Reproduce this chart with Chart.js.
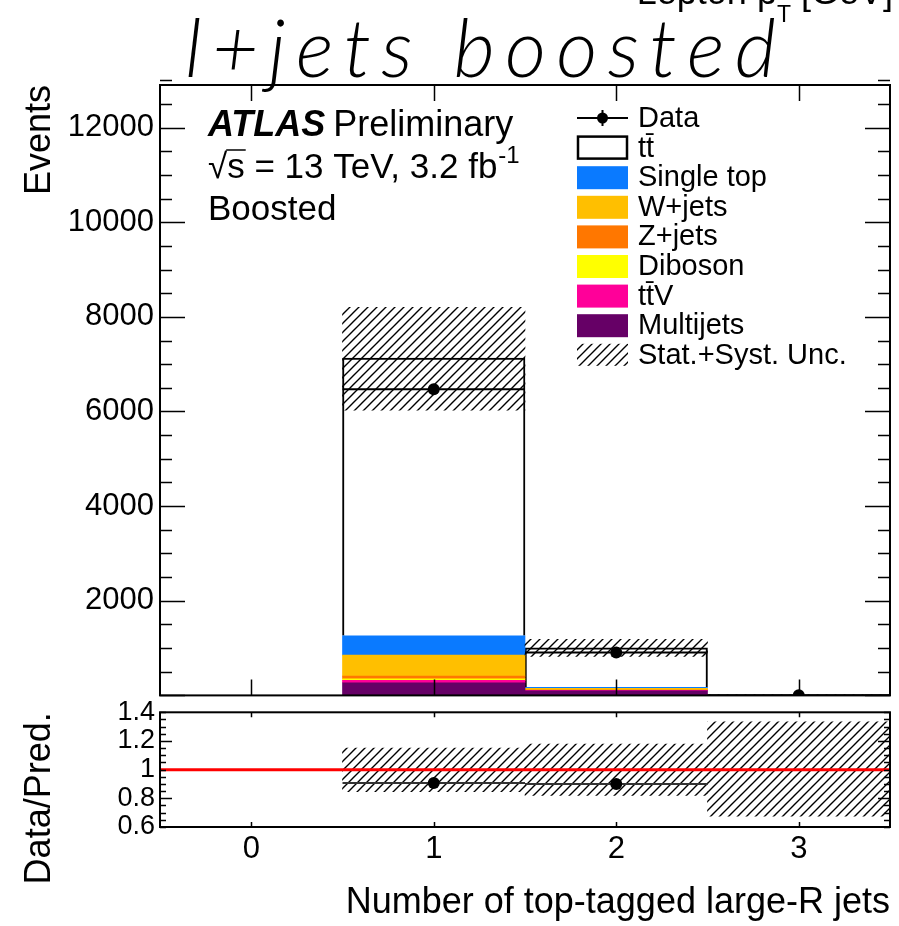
<!DOCTYPE html>
<html>
<head>
<meta charset="utf-8">
<script src="https://cdn.jsdelivr.net/npm/chart.js@4.4.0/dist/chart.umd.min.js"></script>
<style>
  html, body { margin: 0; padding: 0; background: #fff; }
  #wrap { position: relative; width: 899px; height: 926px; overflow: hidden; }
  canvas { position: absolute; left: 0; }
  #mainChart { top: 0; }
  #ratioChart { top: 690px; }
</style>
</head>
<body>
<div id="wrap">
  <canvas id="mainChart" width="899" height="720"></canvas>
  <canvas id="ratioChart" width="899" height="236"></canvas>
</div>
<script>
// bin centres = number of top-tagged large-R jets
const bins = [0, 1, 2, 3];

// stacked predictions (events)
const ttbar     = [0, 5870, 832, 8];
const singleTop = [0, 410, 25, 1];
const wJets     = [0, 444, 25, 1];
const zJets     = [0, 55, 10, 0];
const diboson   = [0, 36, 6, 0];
const ttV       = [0, 48, 12, 0.5];
const multijets = [0, 268, 95, 0];

// data and uncertainty band
const dataCounts = [null, 6470, 905, 4];
const dataErr    = [null, 80, 30, 2];
const uncUp      = [null, 8200, 1185, 14];
const uncDown    = [null, 6030, 825, 7.1];

// tick labels
const yTicksMain  = [2000, 4000, 6000, 8000, 10000, 12000];
const yTicksRatio = [0.6, 0.8, 1, 1.2, 1.4];
const xTicks      = [0, 1, 2, 3];

Chart.defaults.font.family = "'Liberation Sans', Arial, Helvetica, sans-serif";
Chart.defaults.color = '#000';

const FONT = "'Liberation Sans', Arial, Helvetica, sans-serif";

// stack, bottom first
const stackDefs = [
  { label: 'Multijets',  data: multijets, color: '#660066' },
  { label: 'tt\u0304V',  data: ttV,       color: '#ff0099' },
  { label: 'Diboson',    data: diboson,   color: '#ffff00' },
  { label: 'Z+jets',     data: zJets,     color: '#ff7700' },
  { label: 'W+jets',     data: wJets,     color: '#ffbf00' },
  { label: 'Single top', data: singleTop, color: '#0a7aff' },
  { label: 'tt\u0304',   data: ttbar,     color: '#ffffff', outline: true }
];

const totals = bins.map((b, i) => stackDefs.reduce((s, d) => s + d.data[i], 0));
const ratio = bins.map((b, i) => (dataCounts[i] == null || !totals[i]) ? null : dataCounts[i] / totals[i]);
const ratioUp = bins.map((b, i) => uncUp[i] == null ? null : uncUp[i] / totals[i]);
const ratioDown = bins.map((b, i) => uncDown[i] == null ? null : uncDown[i] / totals[i]);

const setTicks = list => s => { s.ticks = list.map(v => ({ value: v })); };

function hatch(ctx, step, lw) {
  const c = document.createElement('canvas');
  c.width = step; c.height = step;
  const g = c.getContext('2d');
  g.strokeStyle = '#000';
  g.lineWidth = lw;
  g.beginPath();
  g.moveTo(0, step); g.lineTo(step, 0);
  g.moveTo(-step / 2, step / 2); g.lineTo(step / 2, -step / 2);
  g.moveTo(step / 2, step * 1.5); g.lineTo(step * 1.5, step / 2);
  g.stroke();
  return ctx.createPattern(c, 'repeat');
}

// ROOT style frame with inward ticks
function frameTicks(o) {
  return {
    id: 'frameTicks',
    afterDatasetsDraw(chart) {
      const { ctx, chartArea: a, scales } = chart;
      const xs = scales.x, ys = scales.y;
      ctx.save();
      ctx.strokeStyle = '#000';
      ctx.lineWidth = 1.5;
      ctx.beginPath();
      const n = Math.round((ys.max - ys.min) / o.yMinor);
      for (let k = 0; k <= n; k++) {
        const v = ys.min + k * o.yMinor;
        const q = v / o.yMajor;
        const len = Math.abs(q - Math.round(q)) < 1e-6 ? o.yMajLen : o.yMinLen;
        const py = Math.round(ys.getPixelForValue(v)) + 0.5;
        ctx.moveTo(a.left, py); ctx.lineTo(a.left + len, py);
        ctx.moveTo(a.right, py); ctx.lineTo(a.right - len, py);
      }
      xTicks.forEach(v => {
        const px = Math.round(xs.getPixelForValue(v)) + 0.5;
        ctx.moveTo(px, a.bottom); ctx.lineTo(px, a.bottom - o.xLen);
        ctx.moveTo(px, a.top); ctx.lineTo(px, a.top + o.xLen);
      });
      ctx.stroke();
      ctx.lineWidth = 2;
      ctx.strokeRect(a.left, a.top, a.right - a.left, a.bottom - a.top);
      ctx.restore();
    }
  };
}

function errorBars(dataIndex, yId, values, errs, color) {
  return {
    id: 'errorBars',
    beforeDatasetDraw(chart, args) {
      if (args.index !== dataIndex) return;
      const { ctx, chartArea: a } = chart;
      const xs = chart.scales.x, ys = chart.scales[yId];
      ctx.save();
      ctx.beginPath();
      ctx.rect(a.left, a.top, a.right - a.left, a.bottom - a.top);
      ctx.clip();
      ctx.strokeStyle = color;
      ctx.lineWidth = 2;
      ctx.beginPath();
      bins.forEach((b, i) => {
        const v = values[i];
        if (v == null) return;
        const py = ys.getPixelForValue(v);
        ctx.moveTo(xs.getPixelForValue(b - 0.5), py);
        ctx.lineTo(xs.getPixelForValue(b + 0.5), py);
        if (errs && errs[i]) {
          const px = xs.getPixelForValue(b);
          ctx.moveTo(px, ys.getPixelForValue(v - errs[i]));
          ctx.lineTo(px, ys.getPixelForValue(v + errs[i]));
        }
      });
      ctx.stroke();
      ctx.restore();
    }
  };
}

const mainCanvas = document.getElementById('mainChart');
const mainCtx = mainCanvas.getContext('2d');
const hatchMain = hatch(mainCtx, 9, 1.4);

const labelsPlugin = {
  id: 'labels',
  afterDraw(chart) {
    const ctx = chart.ctx;
    ctx.save();
    ctx.fillStyle = '#000';
    ctx.strokeStyle = '#000';

    // handwritten title
    const title = 'l+jets boosted';
    ctx.font = "italic 300 80px Lato, 'DejaVu Sans', sans-serif";
    ctx.textBaseline = 'alphabetic';
    ctx.textAlign = 'left';
    const w0 = ctx.measureText(title).width;
    const ls = (590 - w0) / (title.length - 1);
    let tx = 185;
    for (const ch of title) {
      ctx.fillText(ch, tx, 77);
      tx += ctx.measureText(ch).width + ls;
    }

    // cut-off axis title at top right
    ctx.font = '36px ' + FONT;
    const p1 = 'Lepton p', p3 = ' [GeV]';
    const w1 = ctx.measureText(p1).width, w3 = ctx.measureText(p3).width;
    ctx.font = '23px ' + FONT;
    const w2 = ctx.measureText('T').width;
    const lx = 893 - (w1 + w2 + w3);
    ctx.font = '36px ' + FONT;
    ctx.fillText(p1, lx, 4);
    ctx.font = '23px ' + FONT;
    ctx.fillText('T', lx + w1, 22);
    ctx.font = '36px ' + FONT;
    ctx.fillText(p3, lx + w1 + w2, 4);

    // ATLAS label
    ctx.font = 'italic bold 36px ' + FONT;
    ctx.fillText('ATLAS', 208, 136);
    const wa = ctx.measureText('ATLAS').width;
    ctx.font = '36px ' + FONT;
    ctx.fillText('Preliminary', 208 + wa + 8, 136);

    ctx.font = '35px ' + FONT;
    const root = '\u221A', s = 's';
    const wr = ctx.measureText(root).width, ws = ctx.measureText(s).width;
    ctx.fillText(root, 208, 178);
    ctx.fillText(s, 208 + wr, 178);
    ctx.lineWidth = 1.5;
    ctx.beginPath();
    ctx.moveTo(208 + wr - 1, 178 - 28);
    ctx.lineTo(208 + wr + ws + 1, 178 - 28);
    ctx.stroke();
    const rest = ' = 13 TeV, 3.2 fb';
    ctx.fillText(rest, 208 + wr + ws, 178);
    const wrest = ctx.measureText(rest).width;
    ctx.font = '24px ' + FONT;
    ctx.fillText('-1', 208 + wr + ws + wrest + 1, 163);
    ctx.font = '35px ' + FONT;
    ctx.fillText('Boosted', 208, 220);

    // legend
    const rows = [{ label: 'Data', kind: 'data' }]
      .concat(stackDefs.slice().reverse().map(d => ({ label: d.label, kind: d.outline ? 'outline' : 'fill', color: d.color })))
      .concat([{ label: 'Stat.+Syst. Unc.', kind: 'hatch' }]);
    const bx = 577, bw = 51, bh = 22;
    ctx.font = '29px ' + FONT;
    ctx.textBaseline = 'middle';
    rows.forEach((r, i) => {
      const cy = 118 + i * 29.6;
      if (r.kind === 'data') {
        ctx.lineWidth = 2;
        ctx.beginPath();
        ctx.moveTo(bx, cy); ctx.lineTo(bx + bw, cy);
        ctx.moveTo(bx + bw / 2, cy - 8); ctx.lineTo(bx + bw / 2, cy + 8);
        ctx.stroke();
        ctx.beginPath();
        ctx.arc(bx + bw / 2, cy, 5.5, 0, Math.PI * 2);
        ctx.fill();
      } else if (r.kind === 'outline') {
        ctx.lineWidth = 2.5;
        ctx.strokeRect(bx + 1, cy - bh / 2, bw - 2, bh);
      } else if (r.kind === 'fill') {
        ctx.fillStyle = r.color;
        ctx.fillRect(bx, cy - bh / 2, bw, bh + 1);
        ctx.fillStyle = '#000';
      } else {
        ctx.fillStyle = hatchMain;
        ctx.fillRect(bx, cy - bh / 2, bw, bh);
        ctx.fillStyle = '#000';
      }
      ctx.fillText(r.label, 638, cy + 1);
    });
    ctx.restore();
  }
};

const pts = arr => bins.map((b, i) => ({ x: b, y: arr[i] }));

new Chart(mainCtx, {
  type: 'bar',
  data: {
    datasets: [
      {
        type: 'line', label: 'Data', data: pts(dataCounts), yAxisID: 'yu',
        showLine: false, pointRadius: 6, pointBackgroundColor: '#000', pointBorderWidth: 0, order: 0
      },
      {
        type: 'bar', label: 'Stat.+Syst. Unc.', yAxisID: 'yu', order: 1, grouped: false,
        data: bins.map((b, i) => ({ x: b, y: uncUp[i] == null ? null : [uncDown[i], uncUp[i]] })),
        backgroundColor: hatchMain, borderWidth: 0, barPercentage: 1, categoryPercentage: 1
      }
    ].concat(stackDefs.map(d => ({
      type: 'bar', label: d.label, data: pts(d.data), yAxisID: 'y', stack: 'mc', order: 2, grouped: false,
      backgroundColor: d.color,
      borderColor: '#000',
      borderWidth: d.outline ? 2 : 0,
      borderSkipped: 'start',
      barPercentage: 1, categoryPercentage: 1
    })))
  },
  options: {
    responsive: false,
    animation: false,
    events: [],
    layout: { padding: { top: 85, right: 9, bottom: 24, left: 0 } },
    plugins: { legend: { display: false }, tooltip: { enabled: false } },
    scales: {
      x: { type: 'linear', min: -0.5, max: 3.5, offset: false, display: false, afterBuildTicks: setTicks(xTicks) },
      y: {
        min: 0, max: 12900, stacked: true,
        afterBuildTicks: setTicks(yTicksMain),
        ticks: { padding: 6, color: '#000', font: { size: 31 }, autoSkip: false, callback: v => String(v) },
        grid: { display: false, drawTicks: false },
        border: { display: false },
        title: { display: true, text: 'Events', align: 'end', color: '#000', font: { size: 36 }, padding: { top: 18, bottom: 0 } },
        afterFit: s => { s.width = 160; }
      },
      yu: { min: 0, max: 12900, display: false, stacked: false }
    }
  },
  plugins: [
    errorBars(0, 'yu', dataCounts, dataErr, '#000'),
    frameTicks({ yMajor: 2000, yMinor: 500, yMajLen: 25, yMinLen: 12, xLen: 16 }),
    labelsPlugin
  ]
});

const ratioCtx = document.getElementById('ratioChart').getContext('2d');
const hatchRatio = hatch(ratioCtx, 9, 1.4);

new Chart(ratioCtx, {
  type: 'bar',
  data: {
    datasets: [
      {
        type: 'line', label: 'Data/Pred.', data: pts(ratio), yAxisID: 'y', clip: 0,
        showLine: false, pointRadius: 6, pointBackgroundColor: '#000', pointBorderWidth: 0, order: 0
      },
      {
        type: 'line', label: 'unity', data: [{ x: -0.5, y: 1 }, { x: 3.5, y: 1 }], yAxisID: 'y',
        borderColor: '#ff0000', borderWidth: 3, pointRadius: 0, order: 1
      },
      {
        type: 'bar', label: 'Unc.', yAxisID: 'y', order: 2, grouped: false, clip: 0,
        data: bins.map((b, i) => ({ x: b, y: ratioUp[i] == null ? null : [ratioDown[i], ratioUp[i]] })),
        backgroundColor: hatchRatio, borderWidth: 0, barPercentage: 1, categoryPercentage: 1
      }
    ]
  },
  options: {
    responsive: false,
    animation: false,
    events: [],
    layout: { padding: { top: 22.3, right: 9, bottom: 0, left: 0 } },
    plugins: { legend: { display: false }, tooltip: { enabled: false } },
    scales: {
      x: {
        type: 'linear', min: -0.5, max: 3.5, offset: false,
        afterBuildTicks: setTicks(xTicks),
        ticks: { autoSkip: false, maxRotation: 0, padding: 4, color: '#000', font: { size: 31 }, callback: v => String(v) },
        grid: { display: false, drawTicks: false },
        border: { display: false },
        title: { display: true, text: 'Number of top-tagged large-R jets', align: 'end', color: '#000', font: { size: 36 }, padding: { top: 0, bottom: 1 } },
        afterFit: s => { s.height = 99; }
      },
      y: {
        min: 0.6, max: 1.4,
        afterBuildTicks: setTicks(yTicksRatio),
        ticks: { autoSkip: false, padding: 5, color: '#000', font: { size: 27 }, callback: v => String(v) },
        grid: { display: false, drawTicks: false },
        border: { display: false },
        title: { display: true, text: 'Data/Pred.', align: 'end', color: '#000', font: { size: 36 }, padding: { top: 18, bottom: 0 } },
        afterFit: s => { s.width = 160; }
      }
    }
  },
  plugins: [
    errorBars(0, 'y', ratio, null, '#333'),
    frameTicks({ yMajor: 0.4, yMinor: 0.05, yMajLen: 12, yMinLen: 6, xLen: 5 })
  ]
});
</script>
</body>
</html>
